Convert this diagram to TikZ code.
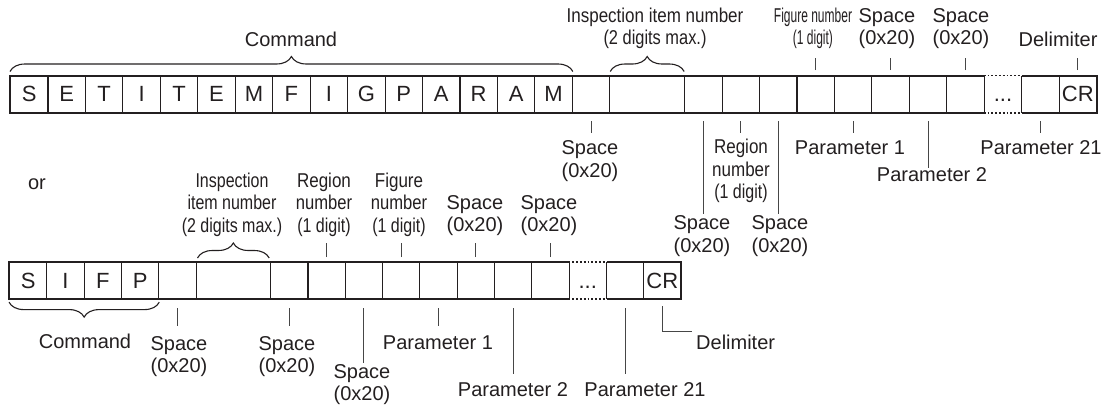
\documentclass[tikz,border=0pt]{standalone}
\usepackage{fontspec}
\setmainfont{Liberation Sans}
\usepackage{graphicx}
\usetikzlibrary{decorations.pathreplacing,calc}
\newcommand\sqz[2]{\scalebox{#1}[1]{#2}}
\definecolor{inkc}{RGB}{35,31,32}
\definecolor{linec}{RGB}{70,70,70}
\begin{document}
\begin{tikzpicture}[x=1pt,y=-1pt,
  cell/.style={draw=inkc, line width=1.1pt, minimum width=37.45pt, minimum height=36pt,
    inner sep=0pt, anchor=north west, font=\fontsize{22}{22}\selectfont, text=inkc},
  dcell/.style={cell, draw=none},
  bcell/.style={cell, minimum width=37.3pt},
  bdcell/.style={bcell, draw=none},
  outer/.style={draw=inkc, line width=1.8pt},
  dotline/.style={draw=inkc, line width=1.8pt, dotted},
  lbl/.style={inner sep=0pt, align=center, font=\fontsize{20}{22.5}\selectfont, text=inkc},
  tick/.style={draw=linec, line width=0.9pt},
  brc/.style={decorate, decoration={brace, amplitude=15pt}, draw=inkc, line width=1.1pt},
  brcm/.style={decorate, decoration={brace, amplitude=15pt, mirror}, draw=inkc, line width=1.1pt}]
\path[use as bounding box] (0,0) rectangle (1112,405);

% ---------------- top row ----------------
\foreach \t [count=\i from 0] in {S,E,T,I,T,E,M,F,I,G,P,A,R,A,M}
  \node[cell] (a\i) at ({10+\i*37.45},75.5) {\t};
\node[cell] (a15) at ({10+15*37.45},75.5) {};
\node[cell, minimum width=74.9pt] (a16) at ({10+16*37.45},75.5) {};
\foreach \i in {18,...,25}
  \node[cell] (a\i) at ({10+\i*37.45},75.5) {};
\node[dcell] (a26) at ({10+26*37.45},75.5) {\vphantom{S}...};
\node[cell] (a27) at ({10+27*37.45},75.5) {};
\node[cell] (a28) at ({10+28*37.45},75.5) {CR};
\draw[outer] (a26.north west) -- (a0.north west) -- (a0.south west) -- (a26.south west);
\draw[outer] (a26.north east) -- (a28.north east) -- (a28.south east) -- (a26.south east);
\draw[dotline] (a26.north west) -- (a26.north east);
\draw[dotline] (a26.south west) -- (a26.south east);

% braces and labels above top row
\draw[brc] ($(a0.north west)+(0,-4)$) -- ($(a14.north east)+(0,-4)$);
\node[lbl] (cmdA) at (291,39) {Command};
\draw[brc] ($(a16.north west)+(1,-4)$) -- ($(a16.north east)+(-1,-4)$);
\node[lbl] (inspA) at (655,28.5) {\sqz{0.85}{Inspection item number}\\\sqz{0.82}{(2 digits max.)}};
\node[lbl] (figA) at (813,28.5) {\sqz{0.6}{Figure number}\\\sqz{0.6}{(1 digit)}};
\node[lbl] (spA1) at (887,28.5) {Space\\(0x20)};
\node[lbl] (spA2) at (961,28.5) {Space\\(0x20)};
\node[lbl] (delA) at (1058,39) {Delimiter};
\foreach \i in {21,23,25,28}
  \draw[tick] ($(a\i.north)+(0,-5.5)$) -- ++(0,-12);

% labels below top row
\foreach \i in {15,19,22,27}
  \draw[tick] ($(a\i.south)+(0,8.5)$) -- ++(0,12);
\draw[tick] ($(a18.south)+(0,8.5)$) -- ++(0,93);
\draw[tick] ($(a20.south)+(0,8.5)$) -- ++(0,93);
\draw[tick] ($(a24.south)+(0,8.5)$) -- ++(0,47);
\node[lbl] (spB1) at (590,161) {Space\\(0x20)};
\node[lbl] (spB2) at (702,236) {Space\\(0x20)};
\node[lbl] (regB) at (741,171) {\sqz{0.85}{Region}\\\sqz{0.85}{number}\\\sqz{0.8}{(1 digit)}};
\node[lbl] (spB3) at (780,236) {Space\\(0x20)};
\node[lbl] (p1B) at (850,148) {Parameter 1};
\node[lbl] (p2B) at (932,175) {Parameter 2};
\node[lbl] (p21B) at (1041,148) {Parameter 21};

% ---------------- "or" ----------------
\node[lbl] (orA) at (37,184) {or};

% ---------------- bottom row ----------------
\foreach \t [count=\i from 0] in {S,I,F,P}
  \node[bcell] (b\i) at ({9+\i*37.3},262) {\t};
\node[bcell] (b4) at ({9+4*37.3},262) {};
\node[bcell, minimum width=74.6pt] (b5) at ({9+5*37.3},262) {};
\foreach \i in {7,...,14}
  \node[bcell] (b\i) at ({9+\i*37.3},262) {};
\node[bdcell] (b15) at ({9+15*37.3},262) {\vphantom{S}...};
\node[bcell] (b16) at ({9+16*37.3},262) {};
\node[bcell] (b17) at ({9+17*37.3},262) {CR};
\draw[outer] (b15.north west) -- (b0.north west) -- (b0.south west) -- (b15.south west);
\draw[outer] (b15.north east) -- (b17.north east) -- (b17.south east) -- (b15.south east);
\draw[dotline] (b15.north west) -- (b15.north east);
\draw[dotline] (b15.south west) -- (b15.south east);

% labels above bottom row
\draw[brc] ($(b5.north west)+(2,-4)$) -- ($(b5.north east)+(-2,-4)$);
\node[lbl] (inspC) at (232,204.5) {\sqz{0.8}{Inspection}\\\sqz{0.8}{item number}\\\sqz{0.8}{(2 digits max.)}};
\node[lbl] (regC) at (324,204.5) {\sqz{0.85}{Region}\\\sqz{0.83}{number}\\\sqz{0.8}{(1 digit)}};
\node[lbl] (figC) at (399,204.5) {\sqz{0.85}{Figure}\\\sqz{0.83}{number}\\\sqz{0.8}{(1 digit)}};
\node[lbl] (spC1) at (475,215.5) {Space\\(0x20)};
\node[lbl] (spC2) at (549,215.5) {Space\\(0x20)};
\foreach \i in {8,10,12,14}
  \draw[tick] ($(b\i.north)+(0,-5)$) -- ++(0,-14);

% labels below bottom row
\draw[brcm] ($(b0.south west)+(0,3)$) -- ($(b3.south east)+(0,3)$);
\node[lbl] (cmdB) at (85,341) {Command};
\foreach \i in {4,7,11}
  \draw[tick] ($(b\i.south)+(0,9)$) -- ++(0,18);
\draw[tick] ($(b9.south)+(0,9)$) -- ++(0,55);
\draw[tick] ($(b13.south)+(0,9)$) -- ++(0,66);
\draw[tick] ($(b16.south)+(0,9)$) -- ++(0,66);
\node[lbl] (spD1) at (179,356.5) {Space\\(0x20)};
\node[lbl] (spD2) at (287,356.5) {Space\\(0x20)};
\node[lbl] (spD3) at (362,384.5) {Space\\(0x20)};
\node[lbl] (p1D) at (438,343) {Parameter 1};
\node[lbl] (p2D) at (513,390) {Parameter 2};
\node[lbl] (p21D) at (645,390) {Parameter 21};
\node[lbl, anchor=west] (delD) at (696,342) {Delimiter};
\draw[tick] ($(b17.south)+(0,7)$) |- ($(delD.west)+(-4,-11)$);
\end{tikzpicture}
\end{document}
